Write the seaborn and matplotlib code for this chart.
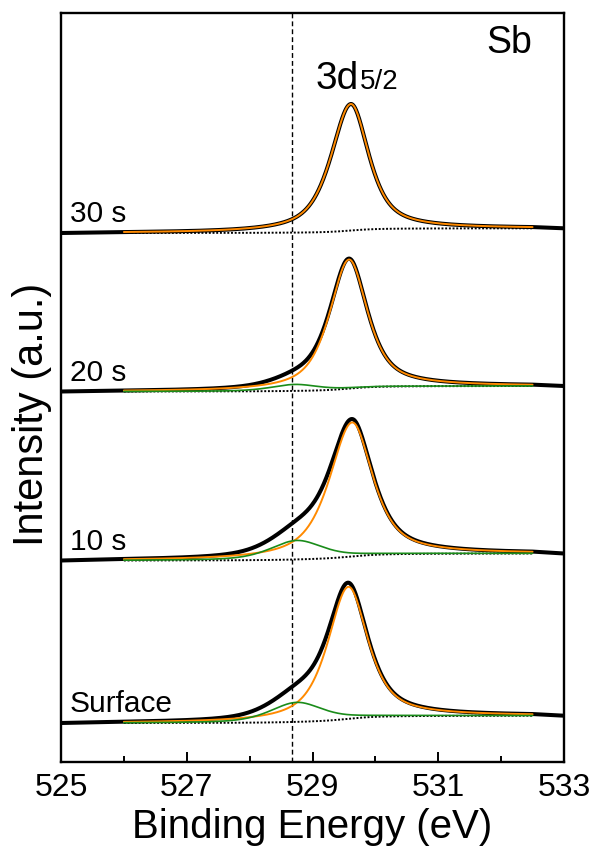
import numpy as np
import pandas as pd
import matplotlib
matplotlib.use("Agg")
import matplotlib.pyplot as plt
from matplotlib.ticker import MultipleLocator
import seaborn as sns

# ---------------- data ----------------
samples = ["Surface", "10 s", "20 s", "30 s"]
offsets = [39.0, 201.5, 370.5, 529.0]          # baseline of each stacked spectrum
steps = [7.3, 7.0, 5.5, 4.7]                   # Shirley background step height
main_center = [529.57, 529.63, 529.58, 529.61] # Sb 3d5/2 main component (eV)
main_height = [132.0, 134.0, 129.0, 126.5]
main_hwhm_left = [0.39, 0.43, 0.37, 0.38]
main_hwhm_right = [0.37, 0.39, 0.35, 0.34]
main_lorentz = [0.72, 0.72, 0.72, 0.72]
sub_center = [528.75, 528.75, 528.72, 528.72]  # low-BE component (green)
sub_height = [19.5, 19.0, 6.5, 0.0]
sub_hwhm = [0.50, 0.50, 0.45, 0.45]
sub_lorentz = [0.5, 0.5, 0.5, 0.5]
fit_range = [526.0, 532.5]
x_range = [525.0, 533.0]
x_major = [525, 527, 529, 531, 533]
ref_line = 528.67
show_sub = [True, True, True, False]

# ---------------- helpers ----------------
def pvoigt(x, c, h, wl, wr, m):
    w = np.where(x < c, wl, wr)
    r = (x - c) / w
    return h * (m / (1 + r ** 2) + (1 - m) * np.exp(-np.log(2) * r ** 2))

grid = np.linspace(fit_range[0], fit_range[1], 800)

rows = []
for i, s in enumerate(samples):
    p1 = pvoigt(grid, main_center[i], main_height[i], main_hwhm_left[i],
                main_hwhm_right[i], main_lorentz[i])
    p2 = pvoigt(grid, sub_center[i], sub_height[i], sub_hwhm[i], sub_hwhm[i],
                sub_lorentz[i])
    tot = p1 + p2
    cum = np.concatenate([[0], np.cumsum((tot[1:] + tot[:-1]) / 2 * np.diff(grid))])
    bg = offsets[i] + steps[i] * cum / cum[-1]
    env = bg + p1 + p2
    xe = np.concatenate([[x_range[0]], grid, [x_range[1]]])
    ye = np.concatenate([[offsets[i]], env, [offsets[i] + steps[i]]])
    rows.append(pd.DataFrame({"x": xe, "y": ye, "sample": s, "curve": "data"}))
    rows.append(pd.DataFrame({"x": grid, "y": bg, "sample": s, "curve": "bg"}))
    rows.append(pd.DataFrame({"x": grid, "y": bg + p1, "sample": s, "curve": "main"}))
    if show_sub[i]:
        rows.append(pd.DataFrame({"x": grid, "y": bg + p2, "sample": s, "curve": "sub"}))
df = pd.concat(rows, ignore_index=True)

# ---------------- plot ----------------
sns.set_style("ticks")
plt.rcParams["font.family"] = ["Liberation Sans", "DejaVu Sans"]
plt.rcParams["text.color"] = "black"
plt.rcParams["axes.labelcolor"] = "black"
plt.rcParams["xtick.color"] = "black"
plt.rcParams["ytick.color"] = "black"

fig = plt.figure(figsize=(5.95, 8.47), dpi=100)
ax = fig.add_axes([61 / 595, 1 - 762 / 847, (564 - 61) / 595, (762 - 12.7) / 847])

ax.axvline(ref_line, color="black", lw=1.0, ls=(0, (3.5, 2.2)), zorder=1)

for i, s in enumerate(samples):
    d = df[df["sample"] == s]
    sns.lineplot(data=d[d.curve == "data"], x="x", y="y", ax=ax, color="black",
                 lw=2.9, sort=False, estimator=None, zorder=2)
    sns.lineplot(data=d[d.curve == "bg"], x="x", y="y", ax=ax, color="black",
                 lw=1.4, ls=(0, (1.0, 0.9)), sort=False, estimator=None, zorder=3)
    sns.lineplot(data=d[d.curve == "main"], x="x", y="y", ax=ax, color="#FF8A00",
                 lw=1.4, sort=False, estimator=None, zorder=4)
    if show_sub[i]:
        sns.lineplot(data=d[d.curve == "sub"], x="x", y="y", ax=ax, color="#1A8C1A",
                     lw=1.2, sort=False, estimator=None, zorder=5)
    ax.text(525.14, offsets[i] + 11, s, fontsize=21.5, ha="left", va="baseline")

ax.set_xlim(x_range)
ax.set_ylim(0, 749.3)
ax.set_xticks(x_major)
ax.xaxis.set_minor_locator(MultipleLocator(1))
ax.set_yticks([])
ax.set_xlabel("")
ax.set_ylabel("")
ax.tick_params(axis="x", which="major", direction="in", length=7, width=1.4,
               labelsize=23, pad=8)
ax.tick_params(axis="x", which="minor", direction="in", length=4, width=1.4)
for sp in ax.spines.values():
    sp.set_visible(True)
    sp.set_linewidth(1.7)
    sp.set_color("black")

ax.text(531.76, 719, "Sb", fontsize=27, ha="left", va="center")
t3d = ax.text(529.05, 673, "3d", fontsize=28, ha="left", va="baseline")
fig.canvas.draw()
bb = t3d.get_window_extent(renderer=fig.canvas.get_renderer())
x_after = ax.transData.inverted().transform((bb.x1 + 1, bb.y0))[0]
ax.text(x_after, 673, "5/2", fontsize=20, ha="left", va="baseline")

fig.text(312 / 595, 1 - 827 / 847, "Binding Energy (eV)", fontsize=29,
         ha="center", va="center")
fig.text(32 / 595, 1 - 414 / 847, "Intensity (a.u.)", fontsize=30,
         rotation=90, ha="center", va="center")

fig.savefig("out.png", dpi=100)
